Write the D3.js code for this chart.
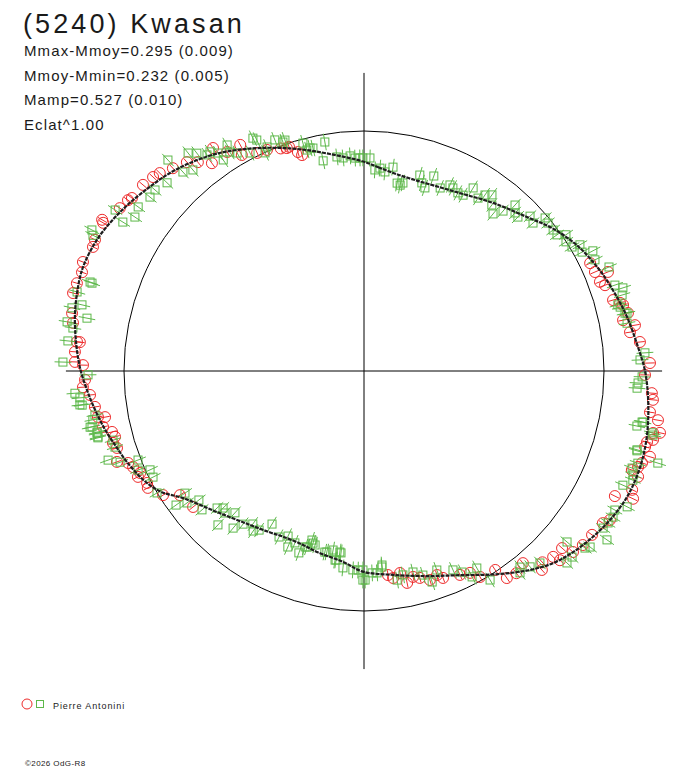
<!DOCTYPE html>
<html>
<head>
<meta charset="utf-8">
<script src="https://cdn.jsdelivr.net/npm/d3@7"></script>
<style>
  body { margin: 0; background: #fff; }
  svg { display: block; }
  text { font-family: "Liberation Sans", Arial, sans-serif; fill: #1a1a1a; }
</style>
</head>
<body>
<svg width="688" height="768"></svg>
<script>
// polar light curve: angle = rotational phase (deg, clockwise from top),
// radius = relative flux (1 = mean, drawn as the reference circle)

const title = "(5240) Kwasan";
const infoLines = ["Mmax-Mmoy=0.295 (0.009)", "Mmoy-Mmin=0.232 (0.005)", "Mamp=0.527 (0.010)", "Eclat^1.00"];
const observer = "Pierre Antonini";
const credit = "\u00a92026 OdG-R8";

// fitted curve [angle, flux]
const fitCurve = [
  [0, 0.872], [4, 0.851], [8.4, 0.834], [13, 0.825], [18.5, 0.824], [28.3, 0.842], [37.5, 0.883],
  [46.6, 0.934], [52.9, 0.985], [59.4, 1.030], [66.8, 1.068], [73.7, 1.098], [78.4, 1.119], [85, 1.146],
  [90, 1.171], [95.8, 1.190], [102.3, 1.208], [107.7, 1.217], [113, 1.218], [117, 1.212],
  [121.2, 1.198], [125.9, 1.178], [131, 1.152], [135.5, 1.123], [140.7, 1.074], [147.6, 1.004],
  [154.8, 0.940], [162.9, 0.894], [171.9, 0.858], [180.3, 0.836], [186.3, 0.800], [194.6, 0.779],
  [199.3, 0.768], [206, 0.768], [210.1, 0.778], [216.5, 0.798], [226.2, 0.849], [234.9, 0.921],
  [239.3, 0.985], [243.7, 1.025], [249, 1.058], [252.7, 1.078], [257.9, 1.110], [263.3, 1.141],
  [266.1, 1.157], [270, 1.180], [274.8, 1.202], [281.3, 1.228], [287.7, 1.245], [291, 1.248],
  [296.1, 1.240], [301, 1.222], [305.7, 1.201], [310.7, 1.177], [315.6, 1.155], [320.1, 1.130],
  [326, 1.093], [332.8, 1.042], [338.7, 0.998], [344.6, 0.957], [351.1, 0.915]
];

// session 1 (circles) [angle, flux]
const circlePts = [
  [287.0,1.251],[285.0,1.255],[281.2,1.240],[279.4,1.229],[275.8,1.202],[275.8,1.190],[273.8,1.207],
  [271.8,1.205],[271.2,1.171],[268.2,1.163],[266.7,1.173],[265.0,1.146],[262.4,1.131],[260.2,1.125],
  [259.9,1.096],[257.9,1.112],[256.4,1.080],[255.2,1.073],[254.0,1.088],[252.7,1.078],[249.8,1.097],
  [248.7,1.055],[247.4,1.042],[245.5,1.025],[244.9,1.040],[242.7,1.017],[241.6,1.024],[238.3,0.984],
  [236.0,0.925],[231.5,0.910],
  [289.3,1.245],[291.2,1.256],[294.6,1.242],[296.0,1.247],[300.0,1.260],[299.6,1.250],[303.7,1.223],
  [305.9,1.214],[306.7,1.206],[310.1,1.204],[312.6,1.194],[314.1,1.185],[316.7,1.161],[319.7,1.141],
  [321.5,1.112],[325.9,1.122],[323.8,1.073],[328.0,1.076],[331.3,1.074],[330.5,1.034],[333.9,1.012],
  [336.3,1.006],[340.9,0.983],[343.2,0.953],[344.0,0.936],[341.5,0.985],[339.5,0.990],
  [64.5,1.044],[66.8,1.047],[67.9,1.097],[69.3,1.051],[70.4,1.066],[74.1,1.079],[75.7,1.114],
  [77.6,1.126],[75.1,1.104],[78.9,1.100],[80.4,1.145],[81.7,1.120],[84.0,1.156],[88.4,1.192],
  [90.8,1.171],[94.4,1.203],[95.7,1.210],[98.2,1.204],[99.5,1.242],[102.1,1.232],[101.8,1.260],
  [103.4,1.238],[105.1,1.213],[106.7,1.244],[108.3,1.220],[110.3,1.190],[111.1,1.224],[104.1,1.216],
  [109.3,1.210],[113.9,1.222],[116.5,1.168],[115.4,1.241],[121.2,1.198],[122.5,1.180],[125.7,1.170],
  [128.5,1.165],[131.8,1.107],[134.5,1.105],[138.2,1.112],[140.4,1.039],[145.4,1.048],[146.6,0.993],
  [154.8,0.939],[159.1,0.923],[164.9,0.893],[168.5,0.901],[169.9,0.855],[172.0,0.871],[173.3,0.856],
  [152.3,0.950],[150.6,0.985],[162.5,0.913],[166.6,0.882],[160.3,0.903],[130.9,1.152],[134.0,1.135],
  [143.0,1.055],[137.0,1.090]
];

// session 2 (squares) [angle, flux]
const squarePts = [
  [359.7,0.888],[1.6,0.888],[3.1,0.839],[4.5,0.848],[6.0,0.834],[8.1,0.858],[10.0,0.795],[11.0,0.789],
  [11.7,0.800],[15.9,0.849],[17.1,0.820],[18.4,0.804],[19.7,0.863],[22.6,0.826],[24.8,0.854],[25.9,0.848],
  [27.8,0.839],[29.4,0.841],[30.8,0.888],[33.4,0.863],[34.5,0.890],[36.0,0.907],[37.6,0.873],[39.4,0.847],
  [41.0,0.883],[42.3,0.935],[43.7,0.911],[45.0,0.907],[47.0,0.946],[48.8,0.936],[49.8,0.988],[51.2,0.984],
  [53.3,0.983],[54.8,0.984],[56.0,1.015],[57.4,0.999],[59.2,1.009],[59.7,1.042],[61.4,1.035],[62.3,1.077],
  [64.3,1.068],[67.0,1.109],[71.1,1.105],[72.2,1.133],[73.6,1.121],[76.0,1.100],[77.6,1.122],
  [297.4,1.277],[296.6,1.263],[302.9,1.235],[301.7,1.181],[303.9,1.150],[306.0,1.163],[309.1,1.149],
  [310.9,1.152],[313.7,1.135],[317.1,1.200],[317.7,1.121],[319.6,1.100],[321.1,1.167],[322.5,1.144],
  [324.0,1.113],[326.3,1.057],[328.8,1.101],[329.8,1.051],[334.5,1.075],[335.1,1.061],[338.9,1.032],
  [340.5,1.012],[345.0,0.983],[347.1,0.953],[350.3,0.968],[349.0,0.892],[352.8,0.899],[354.4,0.892],
  [357.6,0.888],[288.0,1.200],[285.4,1.240],[324.9,1.116],[326.2,1.093],[328.5,1.070],[332.4,1.025],
  [335.6,0.998],[336.6,1.017],[341.1,1.017],[345.5,0.951],[346.4,0.956],[358.9,0.888],[356.3,0.898],
  [75.4,1.093],[77.5,1.114],[79.7,1.114],[86.3,1.173],[87.7,1.151],[91.2,1.159],[92.5,1.143],[93.6,1.140],
  [100.4,1.178],[101.4,1.160],[102.5,1.233],[106.1,1.184],[107.4,1.283],[108.6,1.204],[109.9,1.188],
  [111.1,1.202],[100.4,1.182],[102.1,1.228],[106.3,1.185],[112.1,1.209],[113.8,1.179],[117.3,1.234],
  [119.0,1.195],[120.4,1.203],[121.9,1.198],[123.3,1.192],[124.8,1.233],[127.9,1.194],[128.7,1.180],
  [130.1,1.106],[131.8,1.163],[133.4,1.164],[137.5,1.085],[139.7,1.070],[141.5,1.044],[142.3,1.063],
  [148.9,1.017],[150.2,0.946],[152.3,0.969],[154.0,0.932],[155.9,0.908],[159.9,0.883],[162.1,0.924],
  [163.9,0.885],[166.3,0.862],[169.2,0.865],[174.8,0.820],[176.3,0.843],[179.7,0.871],[180.3,0.829],
  [198.5,0.773],[196.5,0.748],[191.6,0.770],[189.8,0.757],[187.6,0.761],[188.7,0.797],[186.1,0.825],
  [183.2,0.830],[181.7,0.830],[177.7,0.842],[174.7,0.812],[171.0,0.882],
  [263.2,1.192],[259.8,1.148],[258.4,1.165],[256.9,1.142],[255.9,1.143],[254.6,1.085],[253.0,1.085],
  [250.8,1.129],[249.5,1.085],[248.5,1.012],[246.3,1.028],[245.2,0.982],[243.3,0.984],[239.5,1.001],
  [235.7,0.903],[234.5,0.962],[233.3,0.920],[232.0,0.873],[229.4,0.889],[227.0,0.837],[225.8,0.819],
  [224.4,0.828],[222.3,0.799],[223.5,0.884],[219.8,0.852],[218.3,0.813],[216.0,0.788],[214.7,0.811],
  [213.4,0.794],[211.0,0.744],[207.1,0.777],[204.7,0.757],[203.4,0.799],[201.9,0.772],[199.7,0.805],
  [197.9,0.771],[197.1,0.737],[195.7,0.753],[192.2,0.772],[187.2,0.764],[188.4,0.796],[180.3,0.871],
  [287.9,1.191],[283.2,1.207],[282.2,1.245],[280.8,1.175],[279.4,1.254],[278.4,1.226],[275.8,1.240],
  [271.7,1.255],[269.2,1.150],[265.6,1.208],[264.6,1.189],[263.1,1.183],[260.7,1.136],[258.4,1.157],
  [257.1,1.141],[256.1,1.142]
];

const circleErr = 0.02, squareErr = 0.035;

const svg = d3.select("svg");
const cx = 364, cy = 371;

const r = d3.scaleLinear().domain([0, 1]).range([0, 240]);
const a = d3.scaleLinear().domain([0, 360]).range([0, 2 * Math.PI]);
const axisExtent = 1.242;

const plot = svg.append("g").attr("transform", "translate(" + cx + "," + cy + ")");

// axes and unit circle
plot.append("line")
  .attr("x1", -r(axisExtent)).attr("x2", r(axisExtent)).attr("y1", 0).attr("y2", 0)
  .attr("stroke", "#000").attr("stroke-width", 1);
plot.append("line")
  .attr("y1", -r(axisExtent)).attr("y2", r(axisExtent)).attr("x1", 0).attr("x2", 0)
  .attr("stroke", "#000").attr("stroke-width", 1);
plot.append("circle")
  .attr("r", r(1)).attr("fill", "none").attr("stroke", "#000").attr("stroke-width", 1);

const pos = (ang, flux) => d3.pointRadial(a(ang), r(flux));

function drawErr(g, pts, err, color) {
  g.selectAll("line").data(pts).enter().append("line")
    .attr("x1", d => pos(d[0], d[1] - err)[0])
    .attr("y1", d => pos(d[0], d[1] - err)[1])
    .attr("x2", d => pos(d[0], d[1] + err)[0])
    .attr("y2", d => pos(d[0], d[1] + err)[1])
    .attr("stroke", color).attr("stroke-width", 1);
}

const red = "#ee2b2b", green = "#5db84a";

// circles session
const gc = plot.append("g");
drawErr(gc, circlePts, circleErr, red);
gc.selectAll("circle").data(circlePts).enter().append("circle")
  .attr("cx", d => pos(d[0], d[1])[0])
  .attr("cy", d => pos(d[0], d[1])[1])
  .attr("r", 5.5)
  .attr("fill", "none").attr("stroke", red).attr("stroke-width", 1);

// squares session
const gs = plot.append("g");
drawErr(gs, squarePts, squareErr, green);
gs.selectAll("rect").data(squarePts).enter().append("rect")
  .attr("x", d => pos(d[0], d[1])[0] - 4)
  .attr("y", d => pos(d[0], d[1])[1] - 4)
  .attr("width", 8).attr("height", 8)
  .attr("fill", "none").attr("stroke", green).attr("stroke-width", 1);

// fit
const fitLine = d3.lineRadial()
  .angle(d => a(d[0]))
  .radius(d => r(d[1]))
  .curve(d3.curveCatmullRomClosed);
plot.append("path")
  .attr("d", fitLine(fitCurve))
  .attr("fill", "none").attr("stroke", "#1e1e1e").attr("stroke-width", 2.2)
  .attr("stroke-dasharray", "4,1");

// texts
svg.append("text").attr("x", 23).attr("y", 33)
  .attr("font-size", 27).attr("letter-spacing", 3.1).text(title);
svg.selectAll(".info").data(infoLines).enter().append("text")
  .attr("class", "info")
  .attr("x", 24).attr("y", (d, i) => 56 + i * 24.7)
  .attr("font-size", 15).attr("letter-spacing", 1.1).text(d => d);

// legend
svg.append("circle").attr("cx", 27).attr("cy", 704).attr("r", 5)
  .attr("fill", "none").attr("stroke", red);
svg.append("rect").attr("x", 36.5).attr("y", 700.5).attr("width", 7).attr("height", 7)
  .attr("fill", "none").attr("stroke", green);
svg.append("text").attr("x", 53).attr("y", 709)
  .attr("font-size", 9).attr("letter-spacing", 0.9).text(observer);
svg.append("text").attr("x", 25).attr("y", 766)
  .attr("font-size", 8).attr("letter-spacing", 0.4).text(credit);
</script>
</body>
</html>
